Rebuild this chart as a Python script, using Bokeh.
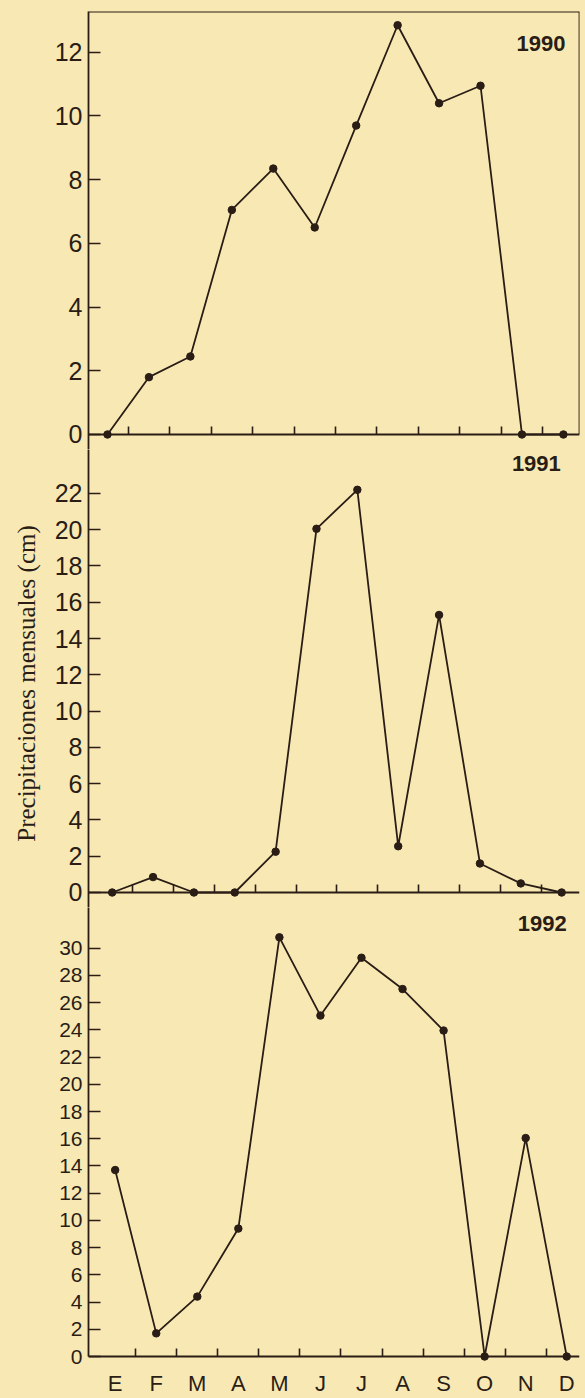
from bokeh.plotting import figure
from bokeh.layouts import column, row
from bokeh.models import Range1d, LinearAxis, FixedTicker, Label, ColumnDataSource
from bokeh.embed import file_html
from bokeh.resources import INLINE
from math import pi

# ---------------- data ----------------
months = ["E", "F", "M", "A", "M", "J", "J", "A", "S", "O", "N", "D"]
rain_1990 = [0, 1.8, 2.45, 7.05, 8.35, 6.5, 9.7, 12.85, 10.4, 10.95, 0, 0]
rain_1991 = [0, 0.85, 0, 0, 2.25, 20.05, 22.2, 2.55, 15.3, 1.6, 0.5, 0]
rain_1992 = [13.7, 1.7, 4.4, 9.4, 30.8, 25.05, 29.3, 27.0, 23.95, 0, 16.05, 0]
years = ["1990", "1991", "1992"]
yticks_1990 = [0, 2, 4, 6, 8, 10, 12]
yticks_1991 = [0, 2, 4, 6, 8, 10, 12, 14, 16, 18, 20, 22]
yticks_1992 = [0, 2, 4, 6, 8, 10, 12, 14, 16, 18, 20, 22, 24, 26, 28, 30]
y_title = "Precipitaciones mensuales (cm)"

# ---------------- style ----------------
BG = "#F8E9B4"
INK = "#2A1D15"
NUM_FONT = "Liberation Sans"
TW = 44            # width of the strip holding the vertical title
PW = 585 - TW      # width of the panels
LEFT = 44

xpos = list(range(len(months)))
halves = [i + 0.5 for i in range(len(months) - 1)]


def make_panel(values, yticks, year, xr, yr, height, top, right, label_px, year_xy, ybounds=None):
    p = figure(width=PW, height=height,
               x_range=Range1d(*xr), y_range=Range1d(*yr),
               x_axis_type=None, y_axis_type=None,
               toolbar_location=None, output_backend="svg",
               min_border_left=LEFT, min_border_right=right,
               min_border_top=top, min_border_bottom=0,
               background_fill_color=BG, border_fill_color=BG,
               outline_line_color=None,
               styles={"background-color": BG})
    src = ColumnDataSource(dict(x=xpos, y=values))
    p.line("x", "y", source=src, line_color=INK, line_width=1.8)
    p.scatter("x", "y", source=src, size=7.5, color=INK)

    yax = LinearAxis(ticker=FixedTicker(ticks=yticks),
                     major_tick_in=12, major_tick_out=0,
                     minor_tick_in=0, minor_tick_out=0,
                     major_label_standoff=6,
                     major_label_text_font=NUM_FONT,
                     major_label_text_font_size=f"{label_px}px",
                     major_label_text_color=INK,
                     axis_line_color=INK, axis_line_width=1.8,
                     major_tick_line_color=INK, major_tick_line_width=1.6)
    if ybounds is not None:
        yax.bounds = ybounds
    p.add_layout(yax, "left")

    lbl = Label(x=year_xy[0], y=year_xy[1], text=year,
                text_align="right", text_baseline="middle",
                text_font=NUM_FONT, text_font_style="bold",
                text_font_size="22px", text_color=INK)
    p.add_layout(lbl)
    return p


def zero_axis(p, labels):
    ticker = FixedTicker(ticks=xpos if labels else [], minor_ticks=halves)
    ax = LinearAxis(fixed_location=0, ticker=ticker,
                    major_tick_in=0, major_tick_out=0,
                    minor_tick_in=8, minor_tick_out=0,
                    axis_line_color=INK, axis_line_width=1.8,
                    minor_tick_line_color=INK, minor_tick_line_width=1.6,
                    major_label_text_font=NUM_FONT,
                    major_label_text_font_size="22px",
                    major_label_text_color=INK,
                    major_label_standoff=14)
    if labels:
        ax.major_label_overrides = {i: m for i, m in enumerate(months)}
    p.add_layout(ax, "below")


# panel 1 : 1990
xr1 = (-0.458, 11.388)
yr1 = (-0.471, 13.281)
p1 = make_panel(rain_1990, yticks_1990, years[0], xr1, yr1, 449, 11, 6, 25, (11.05, 12.28))
zero_axis(p1, False)
top_ax = LinearAxis(fixed_location=yr1[1], ticker=FixedTicker(ticks=[]),
                    major_tick_in=0, major_tick_out=0, minor_tick_in=0, minor_tick_out=0,
                    axis_line_color=INK, axis_line_width=1.8)
p1.add_layout(top_ax, "above")
right_ax = LinearAxis(fixed_location=xr1[1], ticker=FixedTicker(ticks=[]),
                      bounds=(0, yr1[1]),
                      major_tick_in=0, major_tick_out=0, minor_tick_in=0, minor_tick_out=0,
                      axis_line_color=INK, axis_line_width=1.8)
p1.add_layout(right_ax, "right")

# panel 2 : 1991
xr2 = (-0.580, 11.437)
yr2 = (-0.827, 24.421)
p2 = make_panel(rain_1991, yticks_1991, years[1], xr2, yr2, 458, 0, 0, 25, (10.98, 23.65))
zero_axis(p2, False)

# panel 3 : 1992
xr3 = (-0.650, 11.311)
yr3 = (-3.086, 32.991)
p3 = make_panel(rain_1992, yticks_1992, years[2], xr3, yr3, 491, 0, 0, 21, (11.0, 31.8),
                ybounds=(0, yr3[1]))
zero_axis(p3, True)

# strip with the vertical title
tfig = figure(width=TW, height=1398, x_range=Range1d(0, TW), y_range=Range1d(0, 1398),
              x_axis_type=None, y_axis_type=None, toolbar_location=None,
              output_backend="svg", min_border=0,
              background_fill_color=BG, border_fill_color=BG, outline_line_color=None,
              styles={"background-color": BG})
tfig.add_layout(Label(x=26, y=715, text=y_title, angle=pi / 2,
                      text_align="center", text_baseline="middle",
                      text_font="Liberation Serif", text_font_size="25px",
                      text_color=INK))

layout = row(tfig,
             column(p1, p2, p3, spacing=0, styles={"background-color": BG}),
             spacing=0, styles={"background-color": BG})

open("out.html", "w").write(file_html(layout, INLINE))
